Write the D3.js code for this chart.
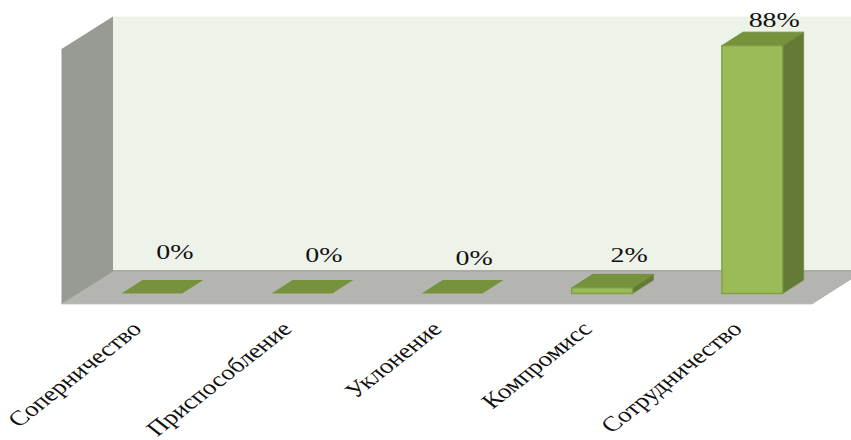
<!DOCTYPE html>
<html lang="ru">
<head>
<meta charset="utf-8">
<script src="https://cdn.jsdelivr.net/npm/d3@7"></script>
<style>
  html, body { margin: 0; padding: 0; background: #fff; }
  svg { display: block; }
  text { font-family: "Liberation Serif", serif; fill: #111; }
</style>
</head>
<body>
<svg id="chart" width="851" height="440"></svg>
<script>
const categories = ["Соперничество", "Приспособление", "Уклонение", "Компромисс", "Сотрудничество"];
const percentages = [0, 0, 0, 2, 88];

const svg = d3.select("#chart");

// Oblique projection of the chart box
const box = { left: 61.5, right: 812, front: 303.3, top: 49, depthX: 51.5, depthY: 32.5 };
const barBase = 293.5;
const barDepth = { x: 21, y: 13.5 };
const floorShift = 15.3;

const x = d3.scaleBand()
  .domain(categories)
  .range([box.left, box.right])
  .paddingInner(0.595)
  .paddingOuter(0.2975);

const y = d3.scaleLinear().domain([0, 90]).range([barBase, barBase - 253.5]);

const poly = pts => "M" + pts.map(p => p.join(",")).join("L") + "Z";

// Back wall, side wall and floor
const backX = box.left + box.depthX;
const backFloor = box.front - box.depthY;
const backTop = box.top - box.depthY;

svg.append("path")
  .attr("d", poly([[backX, backTop], [box.right + box.depthX, backTop], [box.right + box.depthX, backFloor], [backX, backFloor]]))
  .attr("fill", "#eef3ea");
svg.append("path")
  .attr("d", poly([[box.left, box.top], [backX, backTop], [backX, backFloor], [box.left, box.front]]))
  .attr("fill", "#989a94");
svg.append("path")
  .attr("d", poly([[box.left, box.front], [backX, backFloor], [box.right + box.depthX, backFloor], [box.right, box.front]]))
  .attr("fill", "#b4b5b0");
svg.append("path")
  .attr("d", `M${box.left},${box.front}L${backX},${backFloor}L${box.right + box.depthX},${backFloor}`)
  .attr("fill", "none").attr("stroke", "#92948e").attr("stroke-width", 1);
svg.append("path")
  .attr("d", `M${box.left},${box.front + 0.5}L${box.right},${box.front + 0.5}L${box.right + box.depthX},${backFloor}`)
  .attr("fill", "none").attr("stroke", "#a3a5a0").attr("stroke-width", 1);

// Bars: side face, top face, then front face
const bars = svg.append("g").selectAll("g")
  .data(categories.map((c, i) => ({ c, v: percentages[i], i })))
  .join("g");

bars.each(function (d) {
  const g = d3.select(this);
  const x0 = x(d.c) + floorShift;
  const x1 = x0 + x.bandwidth();
  const yt = y(d.v);
  if (d.v > 0) {
    g.append("path")
      .attr("d", poly([[x1, yt], [x1 + barDepth.x, yt - barDepth.y], [x1 + barDepth.x, barBase - barDepth.y], [x1, barBase]]))
      .attr("fill", "#647a37").attr("stroke", "#6f8a3c").attr("stroke-width", 0.8);
  }
  g.append("path")
    .attr("d", poly([[x0, yt], [x0 + barDepth.x, yt - barDepth.y], [x1 + barDepth.x, yt - barDepth.y], [x1, yt]]))
    .attr("fill", "#76923c").attr("stroke", d.v > 0 ? "#6f8a3c" : "none").attr("stroke-width", 0.8);
  if (d.v > 0) {
    g.append("rect")
      .attr("x", x0).attr("y", yt)
      .attr("width", x.bandwidth()).attr("height", barBase - yt)
      .attr("fill", "#9bbb59").attr("stroke", "#7f9f45").attr("stroke-width", 1.4);
  }
});

// Value labels, stretched horizontally and held inside the top of the box
const stretch = 1.27;
const labelNudge = [0, -1, -1, 4, -1];
svg.append("g").selectAll("text")
  .data(categories.map((c, i) => ({ c, v: percentages[i], i })))
  .join("text")
  .attr("text-anchor", "middle")
  .attr("font-size", 22)
  .attr("transform", d => {
    const cx = x(d.c) + x.bandwidth() / 2 + floorShift + 23 + labelNudge[d.i];
    const by = Math.max(27, y(d.v) - 35 + 3 * d.i);
    return `translate(${cx},${by}) scale(${stretch},1)`;
  })
  .text(d => d.v + "%");

// Category axis with slanted labels
const axis = svg.append("g")
  .attr("transform", `translate(0,${box.front})`)
  .call(d3.axisBottom(x).tickSize(0).tickPadding(0));
axis.select(".domain").remove();
axis.selectAll(".tick text")
  .attr("x", 0).attr("y", 0).attr("dy", 0)
  .attr("text-anchor", "end")
  .attr("font-size", 21.2)
  .attr("font-family", "Liberation Serif")
  .attr("fill", "#111")
  .attr("transform", `translate(6.5,27) scale(${stretch},1) rotate(-45)`);
</script>
</body>
</html>
